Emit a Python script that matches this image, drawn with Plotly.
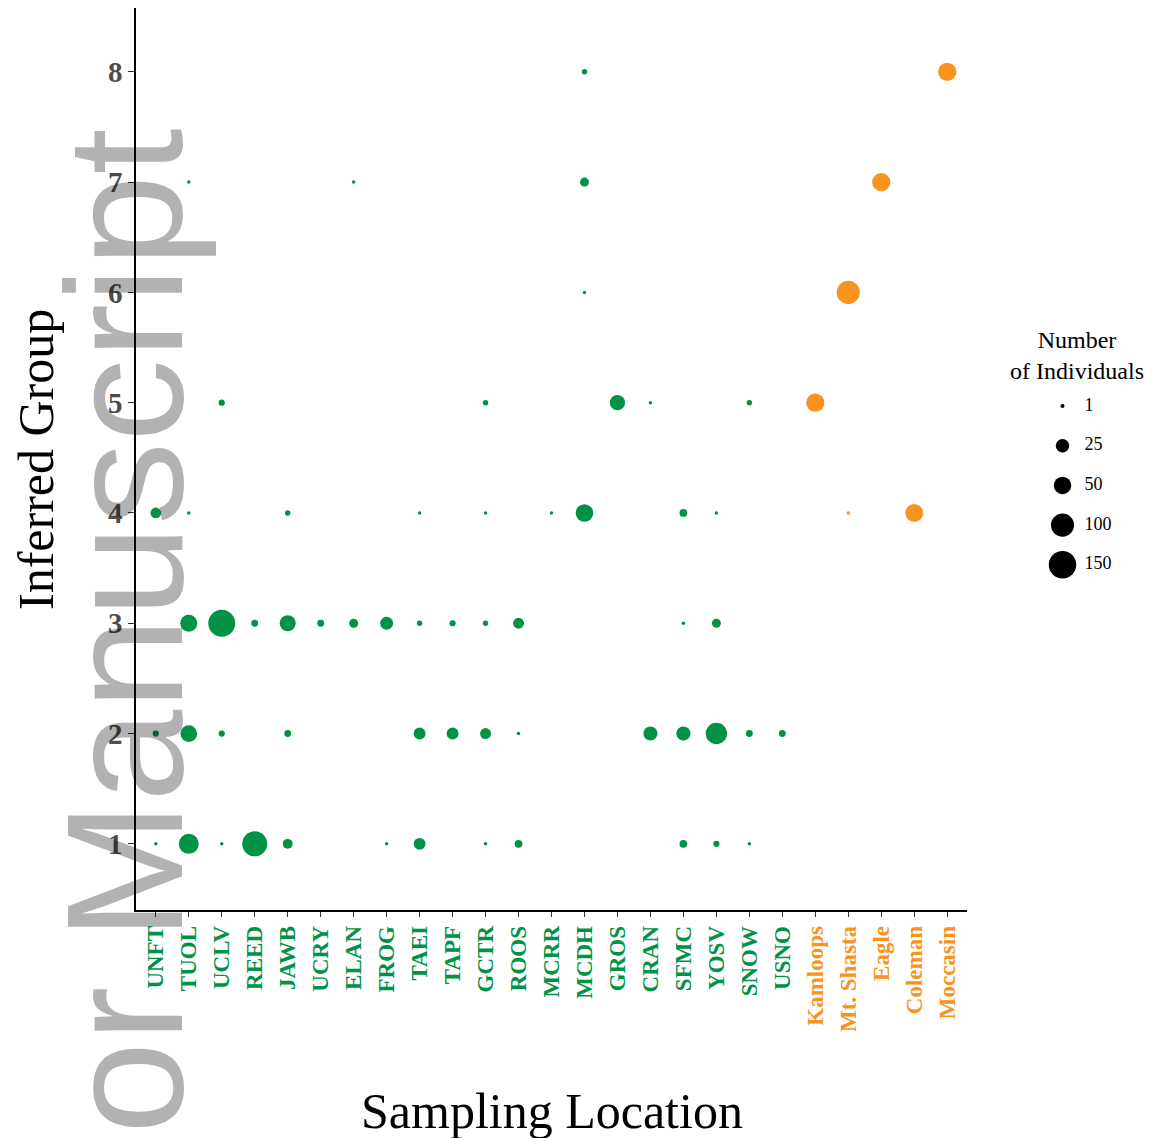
import numpy as np
import plotly.graph_objects as go

# ---------------- data ----------------
locations = ["UNFT", "TUOL", "UCLV", "REED", "JAWB", "UCRY", "ELAN", "FROG", "TAEI", "TAPF",
             "GCTR", "ROOS", "MCRR", "MCDH", "GROS", "CRAN", "SFMC", "YOSV", "SNOW", "USNO",
             "Kamloops", "Mt. Shasta", "Eagle", "Coleman", "Moccasin"]
location_type = ["wild"] * 20 + ["hatchery"] * 5

groups = [1, 2, 3, 4, 5, 6, 7, 8]

# number of individuals per location (same order as `locations`), 0 = none
group_1 = [1, 74, 1, 126, 12, 0, 0, 1, 20, 0, 1, 6, 0, 0, 0, 0, 6, 3, 1, 0, 0, 0, 0, 0, 0]
group_2 = [3, 48, 3, 0, 4, 0, 0, 0, 20, 20, 16, 1, 0, 0, 0, 31, 32, 87, 4, 4, 0, 0, 0, 0, 0]
group_3 = [0, 50, 150, 4, 43, 4, 9, 25, 2, 3, 2, 16, 0, 0, 0, 0, 1, 9, 0, 0, 0, 0, 0, 0, 0]
group_4 = [15, 1, 0, 0, 2, 0, 0, 0, 1, 0, 1, 0, 1, 55, 0, 0, 6, 1, 0, 0, 0, 1, 0, 57, 0]
group_5 = [0, 0, 3, 0, 0, 0, 0, 0, 0, 0, 2, 0, 0, 0, 38, 1, 0, 0, 2, 0, 60, 0, 0, 0, 0]
group_6 = [0, 0, 0, 0, 0, 0, 0, 0, 0, 0, 0, 0, 0, 1, 0, 0, 0, 0, 0, 0, 0, 105, 0, 0, 0]
group_7 = [0, 1, 0, 0, 0, 0, 1, 0, 0, 0, 0, 0, 0, 9, 0, 0, 0, 0, 0, 0, 0, 0, 60, 0, 0]
group_8 = [0, 0, 0, 0, 0, 0, 0, 0, 0, 0, 0, 0, 0, 2, 0, 0, 0, 0, 0, 0, 0, 0, 0, 0, 60]
group_counts = [group_1, group_2, group_3, group_4, group_5, group_6, group_7, group_8]

legend_values = [1, 25, 50, 100, 150]

# ---------------- styling ----------------
GREEN = "#009245"
ORANGE = "#F7931E"
type_color = {"wild": GREEN, "hatchery": ORANGE}
SERIF = "Liberation Serif, Times New Roman, serif"

OFF = 8                      # page body margin offset
W, H = 1154 - OFF, 1138 - OFF
ML, MR, MT, MB = 128, 0, 0, 228
PW = W - ML - MR
PH = H - MT - MB
MAIN_RIGHT = 967             # screenshot px of right end of x axis
UNIT_Y = 110.29              # px per group


def dot_size(n):
    n = np.asarray(n, dtype=float)
    return 3.5 + 23.5 * np.sqrt((n - 1) / (150 - 1))


def px_x(sx):
    return (sx - OFF - ML) / PW


def px_y(sy):
    return 1 - (sy - OFF - MT) / PH


xs, ys, ns, cols = [], [], [], []
for g, counts in zip(groups, group_counts):
    for loc, lt, n in zip(locations, location_type, counts):
        if n > 0:
            xs.append(loc)
            ys.append(g)
            ns.append(n)
            cols.append(type_color[lt])

fig = go.Figure()
fig.add_trace(go.Scatter(
    x=xs, y=ys, mode="markers",
    marker=dict(size=dot_size(ns), color=cols, line=dict(width=0), opacity=1),
    customdata=ns, hovertemplate="%{x}<br>Group %{y}<br>n=%{customdata}<extra></extra>",
    showlegend=False, cliponaxis=False,
))

# size legend drawn on its own small axis
leg_rows = list(range(len(legend_values)))
fig.add_trace(go.Scatter(
    x=[0] * len(legend_values), y=leg_rows, mode="markers",
    marker=dict(size=dot_size(legend_values) + 0.5, color="#000000",
                line=dict(width=0), opacity=1),
    xaxis="x2", yaxis="y2", showlegend=False, hoverinfo="skip", cliponaxis=False,
))
fig.add_trace(go.Scatter(
    x=[0.72] * len(legend_values), y=leg_rows, mode="text",
    text=[str(v) for v in legend_values], textposition="middle right",
    textfont=dict(family=SERIF, size=18, color="black"),
    xaxis="x2", yaxis="y2", showlegend=False, hoverinfo="skip", cliponaxis=False,
))

ticktext = [f'<span style="color:{type_color[t]}">{loc}</span>' for loc, t in zip(locations, location_type)]

main_dom_right = (MAIN_RIGHT - OFF - ML) / PW
leg_left_fig = 1032 - OFF
unit_leg = 39.7
top_units = (406 - OFF - MT) / unit_leg
bottom_units = PH / unit_leg - top_units
y_top = 0.4 + PH / UNIT_Y

fig.update_layout(
    width=W, height=H,
    margin=dict(l=ML, r=MR, t=MT, b=MB, pad=0),
    paper_bgcolor="white", plot_bgcolor="white",
    showlegend=False,
    xaxis=dict(
        domain=[0, main_dom_right],
        type="category", categoryorder="array", categoryarray=locations,
        range=[-0.6, len(locations) - 0.4],
        tickmode="array", tickvals=locations, ticktext=ticktext,
        tickangle=-90, tickfont=dict(family=SERIF, size=23, color=GREEN, weight="bold"),
        showline=True, linecolor="black", linewidth=1.6,
        ticks="outside", ticklen=5, tickwidth=1.4, tickcolor="#333333",
        showgrid=False, zeroline=False,
    ),
    yaxis=dict(
        range=[0.4, y_top],
        tickmode="array", tickvals=groups, ticktext=[str(g) for g in groups],
        tickfont=dict(family=SERIF, size=29, color="#4D4D4D", weight="bold"),
        showline=True, linecolor="black", linewidth=1.6,
        ticks="outside", ticklen=6, tickwidth=1.4, tickcolor="#333333",
        showgrid=False, zeroline=False,
    ),
    xaxis2=dict(
        domain=[(leg_left_fig - ML) / PW, 1.0], anchor="y2",
        range=[-1, (W - leg_left_fig) / 30.5 - 1],
        visible=False, fixedrange=True,
    ),
    yaxis2=dict(
        domain=[0, 1], anchor="x2",
        range=[bottom_units, -top_units],
        visible=False, fixedrange=True,
    ),
)

# legend title
fig.add_annotation(
    text="Number<br>of Individuals", xref="paper", yref="paper",
    x=px_x(1077), y=px_y(356), xanchor="center", yanchor="middle",
    showarrow=False, align="center",
    font=dict(family=SERIF, size=24, color="black"),
)

# axis titles
fig.add_annotation(
    text="Sampling Location", xref="paper", yref="paper",
    x=px_x(552), y=px_y(1111), xanchor="center", yanchor="middle",
    showarrow=False, font=dict(family=SERIF, size=50, color="black"),
)
fig.add_annotation(
    text="Inferred Group", xref="paper", yref="paper",
    x=px_x(36), y=px_y(460), xanchor="center", yanchor="middle",
    textangle=-90, showarrow=False, font=dict(family=SERIF, size=50, color="black"),
)

# watermark
fig.add_annotation(
    text="or Manuscript", xref="paper", yref="paper",
    x=px_x(124), y=px_y(631), xanchor="center", yanchor="middle",
    textangle=-90, showarrow=False,
    font=dict(family="Liberation Sans, Arial, sans-serif", size=166, color="rgba(0,0,0,0.3)"),
)

fig.write_html("out.html")
